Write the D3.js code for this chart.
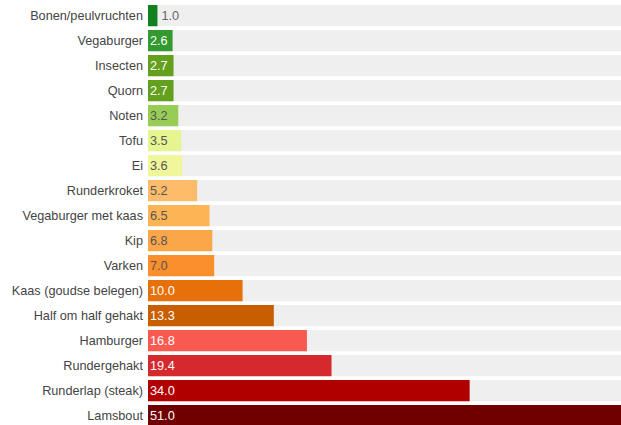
<!DOCTYPE html>
<html>
<head>
<meta charset="utf-8">
<script src="https://cdn.jsdelivr.net/npm/d3@7"></script>
<style>
  html, body { margin: 0; padding: 0; background: #fff; overflow: hidden; }
  svg { display: block; }
</style>
</head>
<body>
<div id="chart"></div>
<script>
const categories = ["Bonen/peulvruchten","Vegaburger","Insecten","Quorn","Noten","Tofu","Ei","Runderkroket","Vegaburger met kaas","Kip","Varken","Kaas (goudse belegen)","Half om half gehakt","Hamburger","Rundergehakt","Runderlap (steak)","Lamsbout"];
const values = [1.0, 2.6, 2.7, 2.7, 3.2, 3.5, 3.6, 5.2, 6.5, 6.8, 7.0, 10.0, 13.3, 16.8, 19.4, 34.0, 51.0];
const colors = ["#13801f","#329a2e","#62a01e","#62a01e","#97cd55","#e6f590","#f0f79a","#fdbc6a","#fdb455","#fca64a","#fb8f2c","#e6700a","#c95e00","#f95a50","#d42a2e","#b00000","#700000"];
const textColors = ["#555","#fff","#fff","#fff","#555","#555","#555","#555","#555","#555","#555","#fff","#fff","#fff","#fff","#fff","#fff"];

const W = 621, H = 425;
const svg = d3.select("#chart").append("svg").attr("width", W).attr("height", H);

const x = d3.scaleLinear().domain([0, 50]).range([148, 621]);
const y = d3.scaleBand().domain(categories).range([1.25, 430]).padding(0.15);

const data = categories.map((c, i) => ({c, v: values[i], col: colors[i], tc: textColors[i]}));

const rows = svg.selectAll("g.row").data(data).join("g").attr("class", "row");

rows.append("rect")
  .attr("x", x(0)).attr("y", d => y(d.c))
  .attr("width", x.range()[1] - x(0)).attr("height", y.bandwidth())
  .attr("fill", "#efefef");

rows.append("rect")
  .attr("x", x(0)).attr("y", d => y(d.c))
  .attr("width", d => x(d.v) - x(0)).attr("height", y.bandwidth())
  .attr("fill", d => d.col);

rows.append("text")
  .attr("x", x(0) - 5).attr("y", d => y(d.c) + y.bandwidth() / 2)
  .attr("dy", "0.35em").attr("text-anchor", "end")
  .attr("font-family", "Liberation Sans, Arial, sans-serif").attr("font-size", 12.7)
  .attr("fill", "#444").text(d => d.c);

rows.append("text")
  .attr("x", d => (x(d.v) - x(0) < 15) ? x(d.v) + 4 : x(0) + 2)
  .attr("y", d => y(d.c) + y.bandwidth() / 2)
  .attr("dy", "0.35em")
  .attr("font-family", "Liberation Sans, Arial, sans-serif").attr("font-size", 12.7)
  .attr("fill", d => (x(d.v) - x(0) < 15) ? "#666" : d.tc)
  .text(d => d3.format(".1f")(d.v));
</script>
</body>
</html>
